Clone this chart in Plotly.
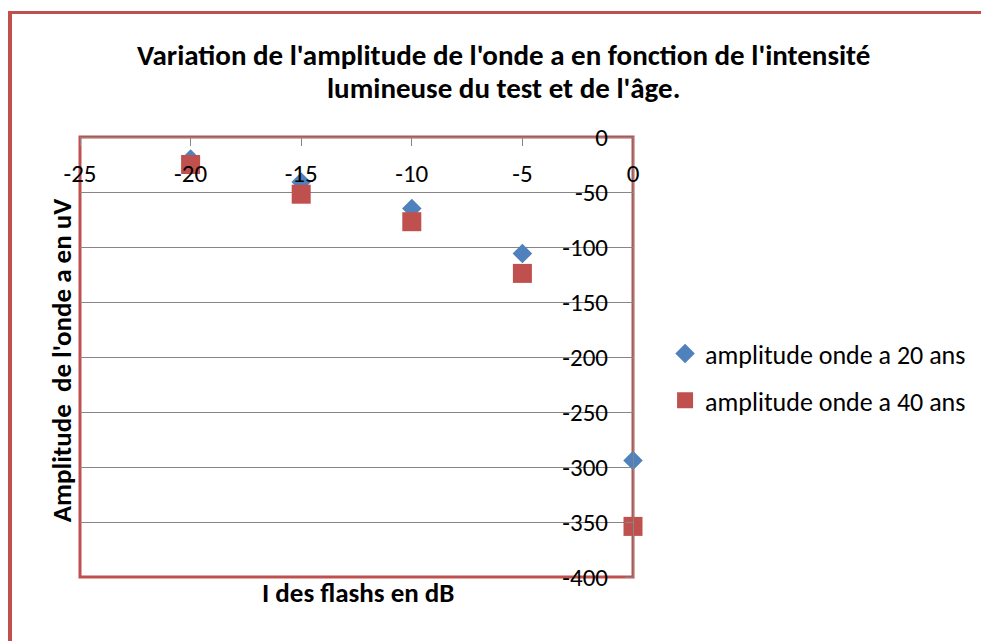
import plotly.graph_objects as go

# flash intensity (dB) and a-wave amplitude (uV)
intensite_db = [-20, -15, -10, -5, 0]
amplitude_20_ans = [-20, -41, -65, -106, -294]
amplitude_40_ans = [-25, -52, -77, -124, -354]

x_ticks = [-25, -20, -15, -10, -5, 0]
y_ticks = [0, -50, -100, -150, -200, -250, -300, -350, -400]

BLUE = "#4F81BD"
RED = "#C0504D"
GRID = "#868686"
FONT = "Carlito, Calibri, Lato, sans-serif"

fig = go.Figure()

fig.add_trace(go.Scatter(
    x=intensite_db,
    y=amplitude_20_ans,
    name="amplitude onde a 20 ans",
    legendgroup="a20",
    mode="markers",
    marker=dict(symbol="diamond", size=15, color=BLUE),
    cliponaxis=False,
))
fig.add_trace(go.Scatter(
    x=intensite_db,
    y=amplitude_40_ans,
    name="amplitude onde a 40 ans",
    legendgroup="a40",
    mode="markers",
    marker=dict(symbol="square", size=19, color=RED),
    cliponaxis=False,
))

# page body has an 8px margin, so the figure is laid out 8px up/left
fig.update_layout(
    width=989,
    height=641,
    paper_bgcolor="white",
    plot_bgcolor="white",
    font=dict(family=FONT, color="black", size=25),
    margin=dict(l=72, r=364, t=129, b=72),
    # x axis crosses at y=0 (top), labels sit under the line
    xaxis=dict(
        range=[min(x_ticks), max(x_ticks)],
        tickvals=x_ticks,
        ticktext=[str(v) for v in x_ticks],
        anchor="free",
        position=1,
        side="bottom",
        showgrid=False,
        zeroline=False,
        showline=True,
        linecolor=GRID,
        linewidth=1,
        ticks="outside",
        ticklen=8,
        tickcolor=GRID,
        ticklabelstandoff=6,
        tickfont=dict(size=25),
    ),
    # y axis crosses at x=0 (right), labels on its left
    yaxis=dict(
        range=[min(y_ticks), max(y_ticks)],
        tickvals=y_ticks,
        ticktext=[str(v) for v in y_ticks],
        anchor="free",
        position=1,
        side="left",
        showgrid=True,
        gridcolor=GRID,
        gridwidth=1,
        zeroline=False,
        showline=True,
        linecolor=GRID,
        linewidth=1,
        ticks="outside",
        ticklen=8,
        tickcolor=GRID,
        ticklabelstandoff=12,
        tickfont=dict(size=25),
    ),
    legend=dict(
        x=1.058, xanchor="left",
        y=0.561, yanchor="top",
        font=dict(size=26),
        tracegroupgap=10,
        bgcolor="rgba(0,0,0,0)",
    ),
    annotations=[
        dict(
            text="Variation de l'amplitude de l'onde a en fonction de l'intensité",
            xref="paper", yref="paper",
            x=0.766, y=1.186, xanchor="center", yanchor="middle",
            showarrow=False,
            font=dict(size=29, weight="bold"),
        ),
        dict(
            text="lumineuse du test et de l'âge.",
            xref="paper", yref="paper",
            x=0.766, y=1.111, xanchor="center", yanchor="middle",
            showarrow=False,
            font=dict(size=29, weight="bold"),
        ),
        dict(
            text="Amplitude  de l'onde a en uV",
            xref="paper", yref="paper",
            x=-0.034, y=0.493, xanchor="center", yanchor="middle",
            textangle=-90,
            showarrow=False,
            font=dict(size=27, weight="bold"),
        ),
        dict(
            text="I des flashs en dB",
            xref="paper", yref="paper",
            x=0.503, y=-0.036, xanchor="center", yanchor="middle",
            showarrow=False,
            font=dict(size=27, weight="bold"),
        ),
    ],
    shapes=[
        # plot area border
        dict(type="rect", xref="x domain", yref="y domain",
             x0=0, x1=1, y0=0, y1=1,
             line=dict(color=RED, width=3), layer="below"),
        # chart area border (left and top edges visible)
        dict(type="line", xref="paper", yref="paper",
             x0=-0.1275, x1=-0.1275, y0=-0.3, y1=1.283,
             line=dict(color=RED, width=5)),
        dict(type="line", xref="paper", yref="paper",
             x0=-0.132, x1=1.9, y0=1.283, y1=1.283,
             line=dict(color=RED, width=3)),
    ],
)

fig.write_html("out.html")
